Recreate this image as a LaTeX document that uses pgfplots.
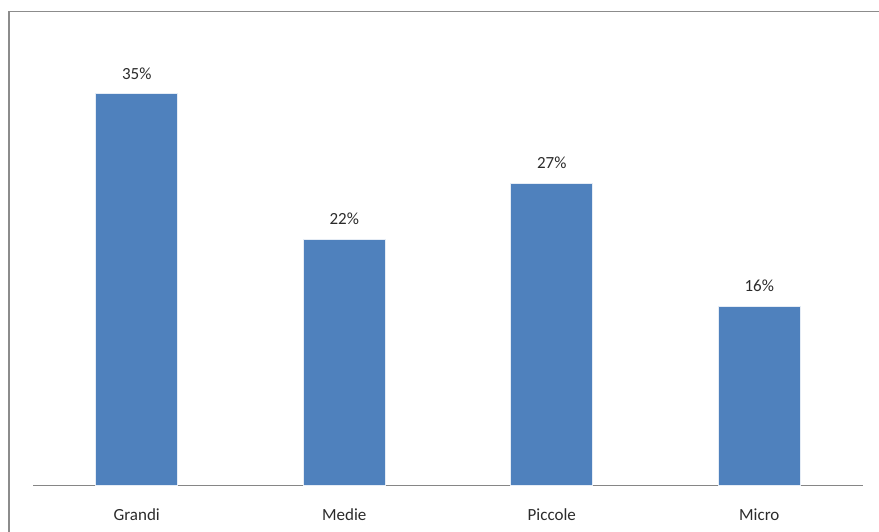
\documentclass[border=0pt]{standalone}
\usepackage{pgfplots}
\pgfplotsset{compat=1.18}
\usepackage{fontspec}
\setmainfont{Carlito}
\definecolor{barblue}{HTML}{4F81BD}
\definecolor{framegray}{HTML}{8C8C8C}
\definecolor{axisgray}{HTML}{868686}
\definecolor{labeltext}{HTML}{2B2B2B}
\begin{document}
\begin{tikzpicture}[x=1pt,y=1pt]
  \useasboundingbox (0,0) rectangle (879,531);
  \clip (0,0) rectangle (879,531);
  % chart area frame (left and top edges visible)
  \draw[framegray, line width=1.6pt] (9,-5) -- (9,519.5) -- (890,519.5);
  \begin{axis}[
    at={(33pt,46pt)}, anchor=south west,
    scale only axis,
    width=830pt, height=450pt,
    xmin=-0.5, xmax=3.5,
    ymin=0, ymax=40.25,
    axis y line=none,
    axis x line*=bottom,
    x axis line style={axisgray, line width=1pt, -},
    xtick={0,1,2,3},
    xticklabels={Grandi,Medie,Piccole,Micro},
    xtick style={draw=none},
    xticklabel style={font=\fontsize{17}{20}\selectfont, text=labeltext,
                      anchor=north, inner sep=0pt, yshift=-19pt},
    /pgf/number format/assume math mode=true,
    ybar, bar width=82pt,
    nodes near coords={\pgfmathprintnumber{\pgfplotspointmeta}\%},
    every node near coord/.append style={font=\fontsize{17}{20}\selectfont,
                      text=labeltext, anchor=south, inner sep=0pt, yshift=14pt},
    clip=false,
  ]
    \addplot[fill=barblue, draw=white!85!barblue, line width=0.8pt]
      coordinates {(0,35) (1,22) (2,27) (3,16)};
  \end{axis}
\end{tikzpicture}
\end{document}
